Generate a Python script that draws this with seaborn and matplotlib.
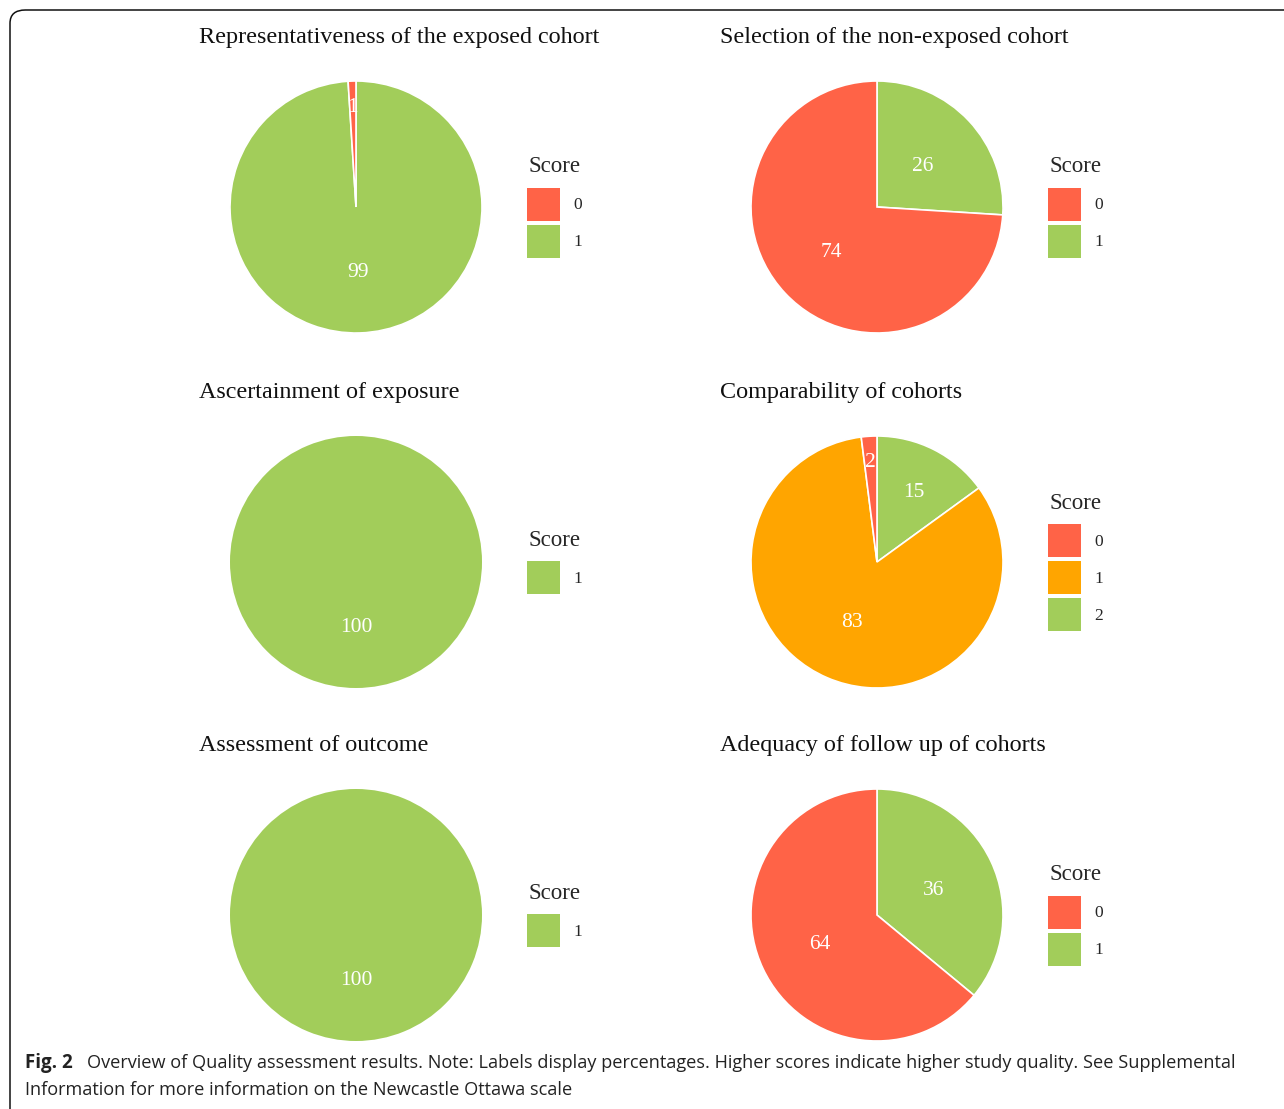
import numpy as np
import matplotlib
matplotlib.use("Agg")
import matplotlib.pyplot as plt
from matplotlib.patches import Patch, FancyBboxPatch
import seaborn as sns

# ---------------- data ----------------
titles = [
    "Representativeness of the exposed cohort",
    "Selection of the non-exposed cohort",
    "Ascertainment of exposure",
    "Comparability of cohorts",
    "Assessment of outcome",
    "Adequacy of follow up of cohorts",
]
rep_scores = ["0", "1"]
rep_values = [1, 99]
sel_scores = ["0", "1"]
sel_values = [74, 26]
asc_scores = ["1"]
asc_values = [100]
comp_scores = ["0", "1", "2"]
comp_values = [2, 83, 15]
out_scores = ["1"]
out_values = [100]
fol_scores = ["0", "1"]
fol_values = [64, 36]

score_colors = {"0": "#FF6347", "1": "#A2CD5A", "2": "#A2CD5A"}
comp_colors = {"0": "#FF6347", "1": "#FFA500", "2": "#A2CD5A"}

caption_bold = "Fig. 2"
caption_rest = ("Overview of Quality assessment results. Note: Labels display percentages. "
                "Higher scores indicate higher study quality. See Supplemental")
caption_line2 = "Information for more information on the Newcastle Ottawa scale"

panels = [
    (rep_scores, rep_values, score_colors),
    (sel_scores, sel_values, score_colors),
    (asc_scores, asc_values, score_colors),
    (comp_scores, comp_values, comp_colors),
    (out_scores, out_values, score_colors),
    (fol_scores, fol_values, score_colors),
]

# label radius (fraction of pie radius) style overrides: (panel index, score) -> radius
label_radius_override = {(3, "2"): 0.64}

# ---------------- style ----------------
sns.set_theme(style="white")
serif = ["Liberation Serif", "DejaVu Serif"]
plt.rcParams["font.family"] = serif

W, H = 1284, 1109
DPI = 100
fig = plt.figure(figsize=(W / DPI, H / DPI), dpi=DPI)

def fx(px):
    return px / W

def fy(py):
    return 1 - py / H

R = 126
centers_x = [356, 877]
centers_y = [207, 562, 915]
title_x = [199, 720]
title_base = [43, 398, 751]

for i, (scores, values, cmap) in enumerate(panels):
    row, col = divmod(i, 2)
    cx, cy = centers_x[col], centers_y[row]
    ax = fig.add_axes([fx(cx - R), fy(cy + R), fx(2 * R), (2 * R) / H])
    # clockwise from 12 o'clock, highest score first
    order = list(range(len(values)))[::-1]
    vals = [values[k] for k in order]
    labs = [scores[k] for k in order]
    cols = [cmap[s] for s in labs]
    lw = 1.2 if len(vals) > 1 else 0
    wedges, _ = ax.pie(vals, colors=cols, startangle=90, counterclock=False,
                       radius=1.0, wedgeprops=dict(edgecolor="white", linewidth=lw))
    total = float(sum(vals))
    for w, v, s in zip(wedges, vals, labs):
        ang = np.deg2rad((w.theta1 + w.theta2) / 2)
        frac = v / total
        d = 0.81 if frac < 0.05 else 0.5
        d = label_radius_override.get((i, s), d)
        ax.text(d * np.cos(ang), d * np.sin(ang), str(v), color="white",
                fontsize=15.5, ha="center", va="center_baseline", family=serif)
    ax.set_xlim(-1, 1)
    ax.set_ylim(-1, 1)
    ax.set_aspect("equal")
    ax.axis("off")

    fig.text(fx(title_x[col]), fy(title_base[row]), titles[i], fontsize=17.4,
             ha="left", va="baseline", family=serif, color="#111111")

    handles = [Patch(facecolor=cmap[s], edgecolor="none", label=s) for s in scores]
    leg = fig.legend(handles=handles, title="Score", loc="center left",
                     bbox_to_anchor=(fx(cx + 171), fy(cy)), frameon=False,
                     fontsize=12.5, title_fontsize=16.5, handlelength=1.90,
                     handleheight=2.55, labelspacing=0.23, handletextpad=0.75,
                     borderpad=0, borderaxespad=0)
    leg._legend_box.sep = 7.5
    leg.get_title().set_family(serif)
    for t in leg.get_texts():
        t.set_family(serif)

# caption
sans = ["Open Sans", "DejaVu Sans"]
fig.text(fx(25), fy(1063), caption_bold, fontsize=13.5, fontweight="bold",
         ha="left", va="center", family=sans, color="#222222")
fig.text(fx(87), fy(1063), caption_rest, fontsize=13.05,
         ha="left", va="center", family=sans, color="#222222")
fig.text(fx(25), fy(1090), caption_line2, fontsize=13.05,
         ha="left", va="center", family=sans, color="#222222")

# border
box = FancyBboxPatch((fx(10), fy(1130)), fx(1300), (1120) / H,
                     boxstyle="round,pad=0,rounding_size=0.012",
                     transform=fig.transFigure, fill=False,
                     edgecolor="#111111", linewidth=1.1)
fig.add_artist(box)

fig.savefig("out.png", dpi=DPI)
